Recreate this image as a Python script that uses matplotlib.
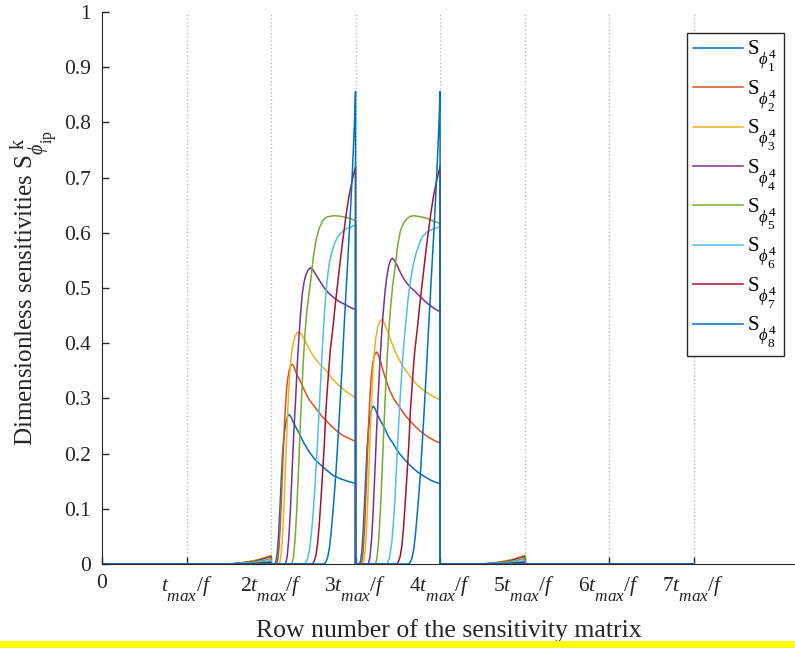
import matplotlib
matplotlib.use("Agg")
import matplotlib.pyplot as plt
import matplotlib._mathtext as mathtext_internals
from matplotlib.patches import Rectangle

plt.rcParams['font.family'] = ['Liberation Serif', 'DejaVu Serif']
plt.rcParams['mathtext.fontset'] = 'custom'
plt.rcParams['mathtext.rm'] = 'Liberation Serif'
plt.rcParams['mathtext.it'] = 'Liberation Serif:italic'
plt.rcParams['mathtext.bf'] = 'Liberation Serif:bold'

# MATLAB's TeX interpreter drops subscripts lower and shrinks them less
mathtext_internals.SHRINK_FACTOR = 0.8
mathtext_internals.FontConstantsBase.sub1 = 1.0
mathtext_internals.FontConstantsBase.sub2 = 0.9

# MATLAB default colour order (8th wraps to the first)
colors = ['#0072BD', '#D95319', '#EDB120', '#7E2F8E', '#77AC30', '#4DBEEE', '#A2142F', '#0072BD']
labels = [r'$\mathrm{S}_{\phi^{4}_{%d}}$' % k for k in range(1, 9)]

# small ramps at the end of blocks 1-2 and 4-5 (offset inside the block, value)
ramp_x = [0, 0.5, 0.65, 0.8, 0.9, 1.0]
ramp_y = [
    [0, 0, 0.001, 0.002, 0.003, 0.004],
    [0, 0, 0.002, 0.006, 0.010, 0.015],
    [0, 0, 0.002, 0.006, 0.010, 0.016],
    [0, 0, 0.002, 0.005, 0.009, 0.014],
    [0, 0, 0.001, 0.004, 0.006, 0.010],
    [0, 0, 0.001, 0.002, 0.004, 0.006],
    [0, 0, 0.000, 0.001, 0.002, 0.003],
    [0, 0, 0.000, 0.000, 0.001, 0.001],
]

# block 2-3 (offset from 2t_max/f)
seg23_x = [
    [0, 0.045, 0.06, 0.075, 0.09, 0.105, 0.12, 0.135, 0.15, 0.165, 0.18, 0.195, 0.21, 0.23, 0.26, 0.30, 0.335, 0.39, 0.453, 0.51, 0.57, 0.65, 0.73, 0.81, 0.887, 0.95, 1.0],
    [0, 0.065, 0.08, 0.095, 0.11, 0.125, 0.14, 0.155, 0.17, 0.185, 0.20, 0.215, 0.23, 0.25, 0.27, 0.30, 0.35, 0.40, 0.45, 0.53, 0.60, 0.70, 0.78, 0.85, 0.93, 1.0],
    [0, 0.095, 0.11, 0.125, 0.14, 0.155, 0.17, 0.185, 0.20, 0.215, 0.23, 0.25, 0.27, 0.29, 0.31, 0.335, 0.36, 0.40, 0.45, 0.50, 0.57, 0.65, 0.72, 0.80, 0.90, 1.0],
    [0, 0.17, 0.19, 0.21, 0.23, 0.25, 0.27, 0.29, 0.31, 0.33, 0.35, 0.37, 0.39, 0.41, 0.44, 0.473, 0.50, 0.54, 0.572, 0.63, 0.68, 0.73, 0.80, 0.888, 0.95, 1.0],
    [0, 0.245, 0.265, 0.285, 0.305, 0.325, 0.345, 0.365, 0.385, 0.405, 0.425, 0.45, 0.475, 0.50, 0.533, 0.57, 0.611, 0.65, 0.70, 0.749, 0.82, 0.888, 0.95, 1.0],
    [0, 0.40, 0.43, 0.46, 0.49, 0.52, 0.55, 0.58, 0.61, 0.635, 0.66, 0.69, 0.72, 0.76, 0.80, 0.85, 0.90, 0.95, 1.0],
    [0, 0.49, 0.51, 0.53, 0.55, 0.57, 0.59, 0.61, 0.63, 0.65, 0.675, 0.70, 0.73, 0.76, 0.79, 0.82, 0.85, 0.888, 0.92, 0.96, 1.0],
    [0, 0.63, 0.65, 0.67, 0.69, 0.71, 0.73, 0.75, 0.77, 0.79, 0.817, 0.84, 0.865, 0.89, 0.91, 0.93, 0.95, 0.967, 0.985, 1.0],
]
seg23_y = [
    [0, 0, 0.006, 0.022, 0.055, 0.10, 0.15, 0.195, 0.226, 0.246, 0.259, 0.267, 0.271, 0.268, 0.258, 0.246, 0.236, 0.219, 0.203, 0.191, 0.182, 0.171, 0.161, 0.155, 0.151, 0.148, 0.146],
    [0, 0, 0.008, 0.03, 0.07, 0.125, 0.185, 0.24, 0.285, 0.318, 0.338, 0.351, 0.358, 0.362, 0.358, 0.345, 0.33, 0.313, 0.298, 0.282, 0.268, 0.252, 0.241, 0.233, 0.227, 0.222],
    [0, 0, 0.007, 0.025, 0.06, 0.11, 0.17, 0.231, 0.285, 0.33, 0.362, 0.39, 0.405, 0.414, 0.419, 0.42, 0.416, 0.405, 0.39, 0.377, 0.363, 0.351, 0.336, 0.324, 0.311, 0.301],
    [0, 0, 0.012, 0.045, 0.10, 0.17, 0.24, 0.295, 0.36, 0.41, 0.455, 0.49, 0.51, 0.523, 0.533, 0.537, 0.532, 0.522, 0.514, 0.50, 0.491, 0.484, 0.476, 0.469, 0.464, 0.461],
    [0, 0, 0.012, 0.045, 0.10, 0.17, 0.245, 0.315, 0.375, 0.425, 0.46, 0.49, 0.52, 0.555, 0.587, 0.608, 0.622, 0.628, 0.63, 0.631, 0.63, 0.628, 0.625, 0.622],
    [0, 0, 0.008, 0.03, 0.075, 0.14, 0.22, 0.31, 0.40, 0.46, 0.51, 0.545, 0.566, 0.584, 0.595, 0.603, 0.608, 0.611, 0.614],
    [0, 0, 0.005, 0.015, 0.035, 0.07, 0.115, 0.165, 0.215, 0.28, 0.335, 0.385, 0.425, 0.47, 0.51, 0.55, 0.588, 0.632, 0.664, 0.695, 0.72],
    [0, 0, 0.004, 0.012, 0.028, 0.055, 0.09, 0.128, 0.17, 0.22, 0.291, 0.355, 0.43, 0.50, 0.555, 0.61, 0.67, 0.726, 0.79, 0.856],
]

# block 3-4 (offset from 3t_max/f)
seg34_x = [
    [0, 0.045, 0.06, 0.075, 0.09, 0.105, 0.12, 0.135, 0.15, 0.165, 0.18, 0.195, 0.21, 0.23, 0.26, 0.30, 0.335, 0.39, 0.453, 0.51, 0.57, 0.65, 0.73, 0.81, 0.887, 0.95, 1.0],
    [0, 0.065, 0.08, 0.095, 0.11, 0.125, 0.14, 0.155, 0.17, 0.185, 0.20, 0.215, 0.23, 0.25, 0.27, 0.30, 0.35, 0.40, 0.45, 0.53, 0.60, 0.70, 0.78, 0.85, 0.93, 1.0],
    [0, 0.085, 0.10, 0.115, 0.13, 0.145, 0.16, 0.175, 0.19, 0.205, 0.22, 0.24, 0.26, 0.275, 0.295, 0.315, 0.34, 0.38, 0.43, 0.48, 0.56, 0.65, 0.72, 0.80, 0.90, 1.0],
    [0, 0.15, 0.17, 0.19, 0.21, 0.23, 0.25, 0.27, 0.29, 0.31, 0.33, 0.35, 0.37, 0.39, 0.41, 0.434, 0.46, 0.50, 0.55, 0.60, 0.65, 0.69, 0.76, 0.85, 0.93, 1.0],
    [0, 0.237, 0.255, 0.275, 0.295, 0.315, 0.335, 0.355, 0.375, 0.395, 0.415, 0.44, 0.47, 0.50, 0.53, 0.57, 0.61, 0.65, 0.69, 0.77, 0.85, 0.93, 1.0],
    [0, 0.375, 0.40, 0.43, 0.46, 0.49, 0.512, 0.54, 0.565, 0.59, 0.62, 0.65, 0.68, 0.72, 0.76, 0.79, 0.85, 0.92, 1.0],
    [0, 0.49, 0.51, 0.53, 0.55, 0.57, 0.59, 0.61, 0.63, 0.65, 0.675, 0.70, 0.73, 0.76, 0.79, 0.82, 0.85, 0.888, 0.92, 0.96, 1.0],
    [0, 0.63, 0.65, 0.67, 0.69, 0.71, 0.73, 0.75, 0.77, 0.79, 0.817, 0.84, 0.865, 0.89, 0.91, 0.93, 0.95, 0.967, 0.985, 1.0],
]
seg34_y = [
    [0, 0, 0.006, 0.023, 0.058, 0.106, 0.158, 0.206, 0.239, 0.26, 0.274, 0.282, 0.286, 0.282, 0.271, 0.258, 0.249, 0.231, 0.216, 0.202, 0.191, 0.178, 0.167, 0.159, 0.152, 0.148, 0.145],
    [0, 0, 0.008, 0.032, 0.075, 0.133, 0.197, 0.255, 0.302, 0.337, 0.359, 0.373, 0.38, 0.384, 0.379, 0.364, 0.338, 0.316, 0.30, 0.282, 0.267, 0.25, 0.239, 0.231, 0.224, 0.219],
    [0, 0, 0.007, 0.026, 0.063, 0.115, 0.178, 0.242, 0.298, 0.345, 0.38, 0.41, 0.428, 0.436, 0.441, 0.443, 0.437, 0.421, 0.40, 0.381, 0.358, 0.339, 0.326, 0.315, 0.305, 0.297],
    [0, 0, 0.012, 0.045, 0.10, 0.17, 0.245, 0.31, 0.37, 0.42, 0.46, 0.495, 0.52, 0.538, 0.549, 0.554, 0.55, 0.538, 0.522, 0.51, 0.501, 0.496, 0.485, 0.472, 0.463, 0.457],
    [0, 0, 0.012, 0.045, 0.10, 0.17, 0.245, 0.315, 0.375, 0.425, 0.465, 0.505, 0.54, 0.578, 0.603, 0.618, 0.626, 0.63, 0.631, 0.629, 0.626, 0.621, 0.617],
    [0, 0, 0.01, 0.04, 0.10, 0.19, 0.259, 0.33, 0.385, 0.43, 0.478, 0.514, 0.54, 0.565, 0.582, 0.593, 0.602, 0.607, 0.611],
    [0, 0, 0.005, 0.015, 0.035, 0.07, 0.115, 0.165, 0.215, 0.28, 0.335, 0.385, 0.425, 0.47, 0.51, 0.55, 0.588, 0.632, 0.664, 0.695, 0.72],
    [0, 0, 0.004, 0.012, 0.028, 0.055, 0.09, 0.128, 0.17, 0.22, 0.291, 0.355, 0.43, 0.50, 0.555, 0.61, 0.67, 0.726, 0.79, 0.856],
]

xtick_pos = [0, 1, 2, 3, 4, 5, 6, 7]
xtick_labels = ['0', r'$t_{max}\mathit{/}f$', r'$2t_{max}\mathit{/}f$', r'$3t_{max}\mathit{/}f$',
                r'$4t_{max}\mathit{/}f$', r'$5t_{max}\mathit{/}f$', r'$6t_{max}\mathit{/}f$',
                r'$7t_{max}\mathit{/}f$']
ytick_pos = [0, 0.1, 0.2, 0.3, 0.4, 0.5, 0.6, 0.7, 0.8, 0.9, 1.0]
ytick_labels = ['0', '0.1', '0.2', '0.3', '0.4', '0.5', '0.6', '0.7', '0.8', '0.9', '1']

fig = plt.figure(figsize=(7.95, 6.48), dpi=100)
ax = fig.add_axes([102 / 795, 84 / 648, 693 / 795, 552 / 648])

# dotted block separators
for xv in xtick_pos[1:]:
    ax.axvline(xv, color='#b8b8b8', linestyle=':', linewidth=1.0, zorder=0)

for k in range(8):
    xs = [0, 1] + [1 + o for o in ramp_x] + [2 + o for o in seg23_x[k]] \
        + [3 + o for o in seg34_x[k]] + [4 + o for o in ramp_x] + [5, 7]
    ys = [0, 0] + ramp_y[k] + seg23_y[k] + seg34_y[k] + ramp_y[k] + [0, 0]
    ax.plot(xs, ys, color=colors[k], linewidth=1.1, label=labels[k])

ax.set_xlim(0, 8.2)
ax.set_ylim(0, 1)
ax.set_xticks(xtick_pos)
ax.set_xticklabels(xtick_labels)
ax.set_yticks(ytick_pos)
ax.set_yticklabels(ytick_labels)
ax.tick_params(direction='in', length=5, width=1, labelsize=15.5, colors='#262626')
ax.tick_params(axis='y', pad=8)
ax.tick_params(axis='x', pad=7)
ax.spines['top'].set_visible(False)
ax.spines['right'].set_visible(False)
ax.spines['left'].set_color('#262626')
ax.spines['bottom'].set_color('#262626')

ax.set_xlabel('Row number of the sensitivity matrix', fontsize=18.5, color='#262626', labelpad=12)
ax.set_ylabel(r'Dimensionless sensitivities $\mathrm{S}_{\phi_{\mathrm{ip}}}^{\ \mathrm{k}}$',
              fontsize=18, color='#262626', labelpad=2)

leg = ax.legend(loc='upper right', bbox_to_anchor=(0.984, 0.962), borderaxespad=0,
                fontsize=15, handlelength=2.4, handletextpad=0.2, labelspacing=0.2,
                fancybox=False, framealpha=1, edgecolor='#262626', borderpad=0.3)
leg.get_frame().set_linewidth(1.0)

# yellow strip along the bottom edge
fig.patches.append(Rectangle((0, 0), 1, 7 / 648, transform=fig.transFigure,
                             facecolor='#ffff00', edgecolor='none'))

fig.savefig('out.png', dpi=100)
